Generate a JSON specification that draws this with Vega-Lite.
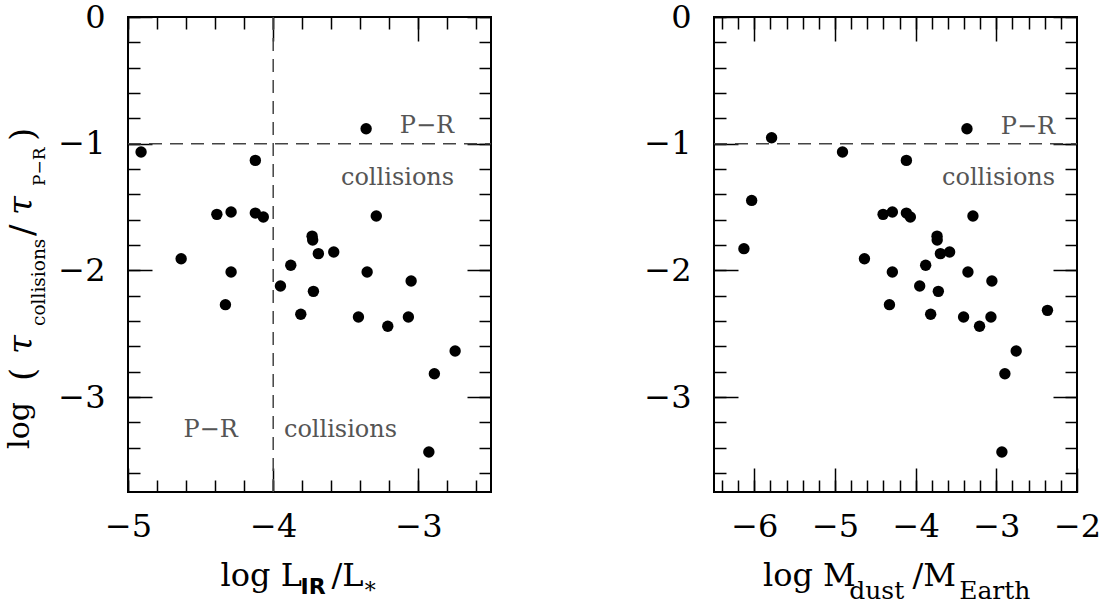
{
  "$schema": "https://vega.github.io/schema/vega-lite/v6.json",
  "padding": {"left": 3, "top": 0, "right": 0, "bottom": 0},
  "datasets": {
    "stars": [
      {"tau": -1.066, "lir": -4.91, "mdust": -4.907},
      {"tau": -1.132, "lir": -4.123, "mdust": -4.115},
      {"tau": -0.882, "lir": -3.36, "mdust": -3.364},
      {"tau": -1.558, "lir": -4.388, "mdust": -4.404},
      {"tau": -1.54, "lir": -4.29, "mdust": -4.289},
      {"tau": -1.548, "lir": -4.123, "mdust": -4.115},
      {"tau": -1.579, "lir": -4.068, "mdust": -4.066},
      {"tau": -1.571, "lir": -3.29, "mdust": -3.29},
      {"tau": -1.73, "lir": -3.732, "mdust": -3.735},
      {"tau": -1.76, "lir": -3.728, "mdust": -3.733},
      {"tau": -1.868, "lir": -3.689, "mdust": -3.693},
      {"tau": -1.855, "lir": -3.583, "mdust": -3.579},
      {"tau": -1.908, "lir": -4.634, "mdust": -4.635},
      {"tau": -2.013, "lir": -4.29, "mdust": -4.289},
      {"tau": -1.96, "lir": -3.879, "mdust": -3.876},
      {"tau": -2.013, "lir": -3.353, "mdust": -3.352},
      {"tau": -2.084, "lir": -3.05, "mdust": -3.055},
      {"tau": -2.124, "lir": -3.95, "mdust": -3.95},
      {"tau": -2.166, "lir": -3.723, "mdust": -3.719},
      {"tau": -2.271, "lir": -4.329, "mdust": -4.325},
      {"tau": -2.347, "lir": -3.81, "mdust": -3.814},
      {"tau": -2.368, "lir": -3.413, "mdust": -3.406},
      {"tau": -2.442, "lir": -3.211, "mdust": -3.208},
      {"tau": -2.368, "lir": -3.069, "mdust": -3.067},
      {"tau": -2.637, "lir": -2.747, "mdust": -2.754},
      {"tau": -2.816, "lir": -2.89, "mdust": -2.894},
      {"tau": -3.434, "lir": -2.928, "mdust": -2.931},
      {"tau": -0.953, "lir": null, "mdust": -5.786},
      {"tau": -1.448, "lir": null, "mdust": -6.033},
      {"tau": -1.829, "lir": null, "mdust": -6.129},
      {"tau": -2.316, "lir": null, "mdust": -2.366}
    ],
    "one": [{}]
  },
  "config": {
    "view": {"stroke": "#000", "strokeWidth": 2},
    "axis": {
      "grid": false,
      "domain": false,
      "labelFont": "DejaVu Serif",
      "labelFontSize": 32,
      "labelColor": "#000",
      "labelFlush": false,
      "labelOverlap": false,
      "labelPadding": 47,
      "tickColor": "#000",
      "tickWidth": 1.5,
      "titleFont": "DejaVu Serif",
      "titleFontSize": 32,
      "titleFontWeight": "normal",
      "titleColor": "#000",
      "titleAlign": "left",
      "titleBaseline": "alphabetic",
      "titlePadding": 0
    },
    "axisBottom": {"labelPadding": 43}
  },
  "hconcat": [
    {
      "width": 363,
      "height": 475,
      "resolve": {"axis": {"x": "independent", "y": "independent"}},
      "layer": [
        {
          "data": {"name": "stars"},
          "transform": [{"filter": "isValid(datum.lir)"}],
          "mark": {"type": "circle", "size": 130, "opacity": 1, "color": "#000"},
          "encoding": {
            "x": {"field": "lir", "type": "quantitative",
              "scale": {"domain": [-5, -2.5], "nice": false, "zero": false},
              "axis": {"orient": "bottom", "values": [-5, -4, -3], "format": "d", "tickSize": -24,
                "title": "log L", "titleX": 92, "titleY": 93.4, "titleAngle": 0}},
            "y": {"field": "tau", "type": "quantitative",
              "scale": {"domain": [-3.75, 0], "nice": false, "zero": false},
              "axis": {"orient": "left", "values": [0, -1, -2, -3], "format": "d", "tickSize": -24,
                "title": "log", "titleX": -99.7, "titleY": 431.4, "titleAngle": 270, "titleFontSize": 30}}
          }
        },
        {
          "data": {"name": "one"},
          "mark": {"type": "rule", "strokeDash": [13, 8], "color": "#444", "strokeWidth": 1.5},
          "encoding": {
            "x": {"datum": -5, "type": "quantitative",
              "axis": {"orient": "bottom", "values": [-5, -4.8, -4.6, -4.4, -4.2, -4, -3.8, -3.6, -3.4, -3.2, -3, -2.8, -2.6], "labels": false, "tickSize": -12,
                "title": "IR", "titleX": 172, "titleY": 101.7, "titleAngle": 0,
                "titleFont": "DejaVu Sans", "titleFontWeight": "bold", "titleFontSize": 22}},
            "x2": {"datum": -2.5},
            "y": {"datum": -1, "type": "quantitative",
              "axis": {"orient": "left", "values": [0, -0.2, -0.4, -0.6, -0.8, -1, -1.2, -1.4, -1.6, -1.8, -2, -2.2, -2.4, -2.6, -2.8, -3, -3.2, -3.4, -3.6], "labels": false, "tickSize": -12,
                "title": "(", "titleX": -94.9, "titleY": 363.4, "titleAngle": 270, "titleFontSize": 34}}
          }
        },
        {
          "data": {"name": "one"},
          "mark": {"type": "rule", "strokeDash": [13, 8], "color": "#444", "strokeWidth": 1.5},
          "encoding": {
            "x": {"datum": -4, "type": "quantitative",
              "axis": {"orient": "top", "values": [-5, -4, -3], "labels": false, "tickSize": -24,
                "title": "/L", "titleX": 203, "titleY": 568.4, "titleAngle": 0}},
            "y": {"datum": 0, "type": "quantitative",
              "axis": {"orient": "right", "values": [0, -1, -2, -3], "labels": false, "tickSize": -24,
                "title": "τ", "titleX": -459.7, "titleY": 336.4, "titleAngle": 270, "titleFontSize": 34, "titleFontStyle": "italic"}},
            "y2": {"datum": -3.75}
          }
        },
        {
          "data": {"name": "one"},
          "mark": {"type": "text", "text": "P−R", "align": "right", "baseline": "alphabetic", "font": "DejaVu Serif", "fontSize": 24, "color": "#555"},
          "encoding": {
            "x": {"datum": -2.754, "type": "quantitative",
              "axis": {"orient": "top", "values": [-5, -4.8, -4.6, -4.4, -4.2, -4, -3.8, -3.6, -3.4, -3.2, -3, -2.8, -2.6], "labels": false, "tickSize": -12,
                "title": "*", "titleX": 236.3, "titleY": 580.4, "titleAngle": 0, "titleFontSize": 22}},
            "y": {"datum": -0.919, "type": "quantitative",
              "axis": {"orient": "right", "values": [0, -0.2, -0.4, -0.6, -0.8, -1, -1.2, -1.4, -1.6, -1.8, -2, -2.2, -2.4, -2.6, -2.8, -3, -3.2, -3.4, -3.6], "labels": false, "tickSize": -12,
                "title": "collisions", "titleX": -446.7, "titleY": 308.4, "titleAngle": 270, "titleFontSize": 18.5}}
          }
        },
        {
          "data": {"name": "one"},
          "mark": {"type": "text", "text": "collisions", "align": "right", "baseline": "alphabetic", "font": "DejaVu Serif", "fontSize": 24, "color": "#555"},
          "encoding": {
            "x": {"datum": -2.754, "type": "quantitative",
              "axis": {"orient": "bottom", "ticks": false, "labels": false,
                "title": "P−R", "titleX": -83.7, "titleY": -306.6, "titleAngle": 270, "titleFontSize": 17}},
            "y": {"datum": -1.325, "type": "quantitative",
              "axis": {"orient": "left", "ticks": false, "labels": false,
                "title": "/", "titleX": -94.9, "titleY": 218.4, "titleAngle": 270, "titleFontSize": 34}}
          }
        },
        {
          "data": {"name": "one"},
          "mark": {"type": "text", "text": "P−R", "align": "right", "baseline": "alphabetic", "font": "DejaVu Serif", "fontSize": 24, "color": "#555"},
          "encoding": {
            "x": {"datum": -4.244, "type": "quantitative",
              "axis": {"orient": "bottom", "ticks": false, "labels": false,
                "title": ")", "titleX": -94.9, "titleY": -351.6, "titleAngle": 270, "titleFontSize": 34}},
            "y": {"datum": -3.316, "type": "quantitative",
              "axis": {"orient": "left", "ticks": false, "labels": false,
                "title": "τ", "titleX": -96.7, "titleY": 197.4, "titleAngle": 270, "titleFontSize": 34, "titleFontStyle": "italic"}}
          }
        },
        {
          "data": {"name": "one"},
          "mark": {"type": "text", "text": "collisions", "align": "left", "baseline": "alphabetic", "font": "DejaVu Serif", "fontSize": 24, "color": "#555"},
          "encoding": {
            "x": {"datum": -3.926, "type": "quantitative", "axis": null},
            "y": {"datum": -3.316, "type": "quantitative", "axis": null}
          }
        }
      ]
    },
    {
      "width": 363,
      "height": 475,
      "resolve": {"axis": {"x": "independent", "y": "independent"}},
      "layer": [
        {
          "data": {"name": "stars"},
          "mark": {"type": "circle", "size": 130, "opacity": 1, "color": "#000"},
          "encoding": {
            "x": {"field": "mdust", "type": "quantitative",
              "scale": {"domain": [-6.5, -2], "nice": false, "zero": false},
              "axis": {"orient": "bottom", "values": [-6, -5, -4, -3, -2], "format": "d", "tickSize": -24,
                "title": "log M", "titleX": 48.4, "titleY": 93.4, "titleAngle": 0}},
            "y": {"field": "tau", "type": "quantitative",
              "scale": {"domain": [-3.75, 0], "nice": false, "zero": false},
              "axis": {"orient": "left", "values": [0, -1, -2, -3], "format": "d", "tickSize": -24, "title": null}}
          }
        },
        {
          "data": {"name": "one"},
          "mark": {"type": "rule", "strokeDash": [13, 8], "color": "#444", "strokeWidth": 1.5},
          "encoding": {
            "x": {"datum": -6.5, "type": "quantitative",
              "axis": {"orient": "bottom", "values": [-6.4, -6.2, -6, -5.8, -5.6, -5.4, -5.2, -5, -4.8, -4.6, -4.4, -4.2, -4, -3.8, -3.6, -3.4, -3.2, -3, -2.8, -2.6, -2.4, -2.2], "labels": false, "tickSize": -12,
                "title": "dust", "titleX": 134.7, "titleY": 106.5, "titleAngle": 0, "titleFontSize": 25}},
            "x2": {"datum": -2},
            "y": {"datum": -1, "type": "quantitative",
              "axis": {"orient": "left", "values": [0, -0.2, -0.4, -0.6, -0.8, -1, -1.2, -1.4, -1.6, -1.8, -2, -2.2, -2.4, -2.6, -2.8, -3, -3.2, -3.4, -3.6], "labels": false, "tickSize": -12, "title": null}}
          }
        },
        {
          "data": {"name": "one"},
          "mark": {"type": "text", "text": "P−R", "align": "right", "baseline": "alphabetic", "font": "DejaVu Serif", "fontSize": 24, "color": "#555"},
          "encoding": {
            "x": {"datum": -2.271, "type": "quantitative",
              "axis": {"orient": "top", "values": [-6, -5, -4, -3], "labels": false, "tickSize": -24,
                "title": "/M", "titleX": 198, "titleY": 568.4, "titleAngle": 0}},
            "y": {"datum": -0.921, "type": "quantitative",
              "axis": {"orient": "right", "values": [0, -1, -2, -3], "labels": false, "tickSize": -24, "title": null}}
          }
        },
        {
          "data": {"name": "one"},
          "mark": {"type": "text", "text": "collisions", "align": "right", "baseline": "alphabetic", "font": "DejaVu Serif", "fontSize": 24, "color": "#555"},
          "encoding": {
            "x": {"datum": -2.271, "type": "quantitative",
              "axis": {"orient": "top", "values": [-6.4, -6.2, -6, -5.8, -5.6, -5.4, -5.2, -5, -4.8, -4.6, -4.4, -4.2, -4, -3.8, -3.6, -3.4, -3.2, -3, -2.8, -2.6, -2.4, -2.2], "labels": false, "tickSize": -12,
                "title": "Earth", "titleX": 244.7, "titleY": 581.6, "titleAngle": 0, "titleFontSize": 25}},
            "y": {"datum": -1.324, "type": "quantitative",
              "axis": {"orient": "right", "values": [0, -0.2, -0.4, -0.6, -0.8, -1, -1.2, -1.4, -1.6, -1.8, -2, -2.2, -2.4, -2.6, -2.8, -3, -3.2, -3.4, -3.6], "labels": false, "tickSize": -12, "title": null}}
          }
        }
      ]
    }
  ],
  "spacing": 149
}
